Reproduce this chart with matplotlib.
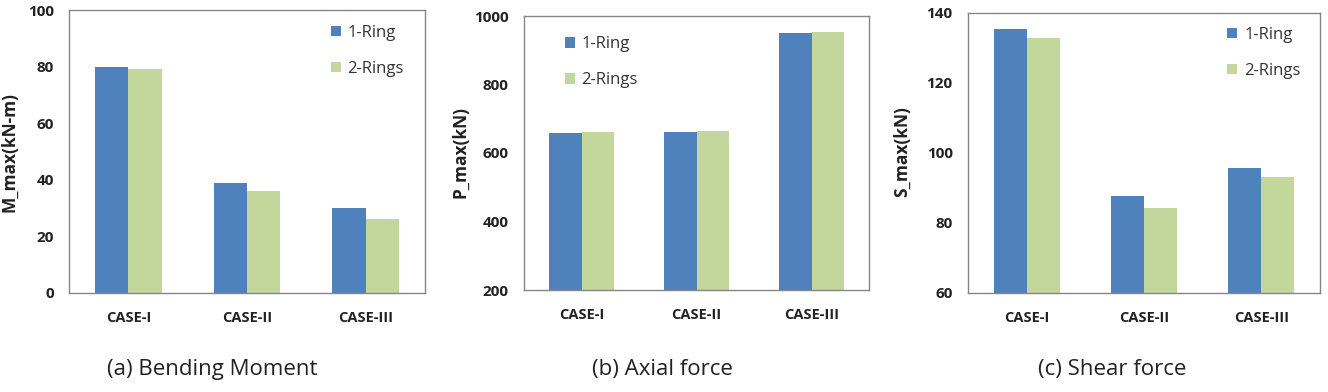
import matplotlib
matplotlib.use("Agg")
import matplotlib.pyplot as plt
import numpy as np

plt.rcParams['font.family'] = ['Open Sans', 'DejaVu Sans']

categories = ["CASE-I", "CASE-II", "CASE-III"]
series_names = ["1-Ring", "2-Rings"]

moment_1ring = [80, 39, 30]
moment_2rings = [79, 36, 26]
axial_1ring = [658, 662, 951]
axial_2rings = [660, 665, 953]
shear_1ring = [135.3, 87.6, 95.6]
shear_2rings = [132.8, 84.4, 93.1]

ylabels = ["M_max(kN-m)", "P_max(kN)", "S_max(kN)"]
captions = ["(a) Bending Moment", "(b) Axial force", "(c) Shear force"]
yticks_list = [[0, 20, 40, 60, 80, 100], [200, 400, 600, 800, 1000], [60, 80, 100, 120, 140]]

BLUE = "#4F81BD"
GREEN = "#C3D69B"
W, H = 1328, 392

fig = plt.figure(figsize=(W / 100, H / 100), dpi=100)

# axes pixel boxes: left, top, right, bottom
boxes = [(69, 10, 425, 293), (524, 16, 869, 290), (968, 13, 1320, 293)]
legend_locs = [(0.735, 0.948), (0.118, 0.926), (0.737, 0.950)]
ylabel_x = [9, 460, 902]
caption_x = [212, 662, 1112]

data = [(moment_1ring, moment_2rings), (axial_1ring, axial_2rings), (shear_1ring, shear_2rings)]

bw = 0.28
x = np.arange(len(categories))
for i, (l, t, r, b) in enumerate(boxes):
    ax = fig.add_axes([l / W, 1 - b / H, (r - l) / W, (b - t) / H])
    s1, s2 = data[i]
    ax.bar(x - bw / 2, s1, bw, color=BLUE, label=series_names[0], zorder=2)
    ax.bar(x + bw / 2, s2, bw, color=GREEN, label=series_names[1], zorder=2)
    yt = yticks_list[i]
    ax.set_ylim(yt[0], yt[-1])
    ax.set_yticks(yt)
    ax.set_yticklabels([str(v) for v in yt], fontsize=11, fontweight='bold', color='#222222')
    ax.set_xlim(-0.5, 2.5)
    ax.set_xticks(x)
    ax.set_xticklabels(categories, fontsize=10.5, fontweight='bold', color='#222222')
    ax.tick_params(axis='y', length=0, pad=11)
    ax.tick_params(axis='x', length=0, pad=13)
    for sp in ax.spines.values():
        sp.set_color('#868686')
        sp.set_linewidth(1.0)
    leg = ax.legend(loc='upper left', bbox_to_anchor=legend_locs[i], frameon=False,
                    fontsize=12, handlelength=0.6, handleheight=0.6,
                    handletextpad=0.4, labelspacing=1.2, borderpad=0, borderaxespad=0)
    for txt in leg.get_texts():
        txt.set_color('#333333')
    fig.text(ylabel_x[i] / W, 1 - 152 / H, ylabels[i], rotation=90,
             ha='center', va='center', fontsize=12.5, fontweight='bold', color='#222222')
    fig.text(caption_x[i] / W, 1 - 370 / H, captions[i], ha='center', va='center',
             fontsize=16, color='#222222')

fig.savefig("out.png", dpi=100)
